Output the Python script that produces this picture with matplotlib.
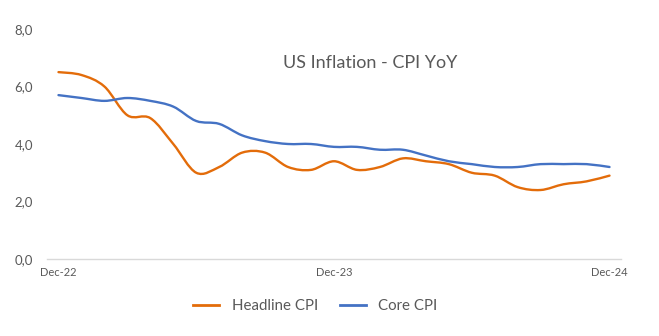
import numpy as np
import matplotlib
matplotlib.use("Agg")
import matplotlib.pyplot as plt
from matplotlib.path import Path
from matplotlib.patches import PathPatch
from matplotlib.lines import Line2D

months = ["Dec-22", "Jan-23", "Feb-23", "Mar-23", "Apr-23", "May-23", "Jun-23", "Jul-23",
          "Aug-23", "Sep-23", "Oct-23", "Nov-23", "Dec-23", "Jan-24", "Feb-24", "Mar-24",
          "Apr-24", "May-24", "Jun-24", "Jul-24", "Aug-24", "Sep-24", "Oct-24", "Nov-24", "Dec-24"]
headline = [6.5, 6.4, 6.0, 5.0, 4.9, 4.0, 3.0, 3.2, 3.7, 3.7, 3.2, 3.1, 3.4,
            3.1, 3.2, 3.5, 3.4, 3.3, 3.0, 2.9, 2.5, 2.4, 2.6, 2.7, 2.9]
core = [5.7, 5.6, 5.5, 5.6, 5.5, 5.3, 4.8, 4.7, 4.3, 4.1, 4.0, 4.0, 3.9,
        3.9, 3.8, 3.8, 3.6, 3.4, 3.3, 3.2, 3.2, 3.3, 3.3, 3.3, 3.2]
shown_ticks = ["Dec-22", "Dec-23", "Dec-24"]
yticks = [0, 2, 4, 6, 8]

ORANGE = "#E36C0A"
BLUE = "#4472C4"
GRAY = "#595959"
FONT = ["Lato", "DejaVu Sans"]

def smooth_path(x, y, t=1/6):
    x = np.asarray(x, float); y = np.asarray(y, float)
    n = len(x)
    verts = [(x[0], y[0])]
    codes = [Path.MOVETO]
    for i in range(n - 1):
        p0 = np.array([x[max(i-1, 0)], y[max(i-1, 0)]])
        p1 = np.array([x[i], y[i]])
        p2 = np.array([x[i+1], y[i+1]])
        p3 = np.array([x[min(i+2, n-1)], y[min(i+2, n-1)]])
        c1 = p1 + (p2 - p0) * t
        c2 = p2 - (p3 - p1) * t
        verts += [tuple(c1), tuple(c2), tuple(p2)]
        codes += [Path.CURVE4] * 3
    return Path(verts, codes)

fig = plt.figure(figsize=(6.59, 3.36), dpi=100)
ax = fig.add_axes([47/659, 77/336, 574/659, 230/336])
xs = np.arange(len(months))
for vals, col in [(headline, ORANGE), (core, BLUE)]:
    ax.add_patch(PathPatch(smooth_path(xs, vals), facecolor="none", edgecolor=col,
                           lw=1.7, capstyle="round", joinstyle="round"))

ax.set_xlim(-0.5, len(months) - 0.5)
ax.set_ylim(0, 8)
ax.set_yticks(yticks)
ax.set_yticklabels([f"{v:.1f}".replace(".", ",") for v in yticks],
                   fontsize=9.5, color=GRAY, family=FONT)
ax.set_xticks([months.index(m) for m in shown_ticks])
ax.set_xticklabels(shown_ticks, fontsize=8, color=GRAY, family=FONT)
ax.tick_params(axis="y", length=0, pad=10)
ax.tick_params(axis="x", length=0, pad=6)
for s in ["top", "right", "left"]:
    ax.spines[s].set_visible(False)
ax.spines["bottom"].set_color("#D9D9D9")
ax.spines["bottom"].set_linewidth(1)

ax.text(0.563, 0.85, "US Inflation - CPI YoY", transform=ax.transAxes, ha="center",
        va="center", fontsize=13, color=GRAY, family=FONT)

handles = [Line2D([], [], color=ORANGE, lw=2), Line2D([], [], color=BLUE, lw=2)]
fig.legend(handles, ["Headline CPI", "Core CPI"], loc="center", bbox_to_anchor=(315.5/659, 1 - 306/336),
           ncol=2, frameon=False, prop={"family": FONT, "size": 10.8}, labelcolor=GRAY,
           handlelength=1.7, columnspacing=1.5, handletextpad=0.85, borderpad=0, borderaxespad=0)

fig.savefig("out.png", dpi=100)
